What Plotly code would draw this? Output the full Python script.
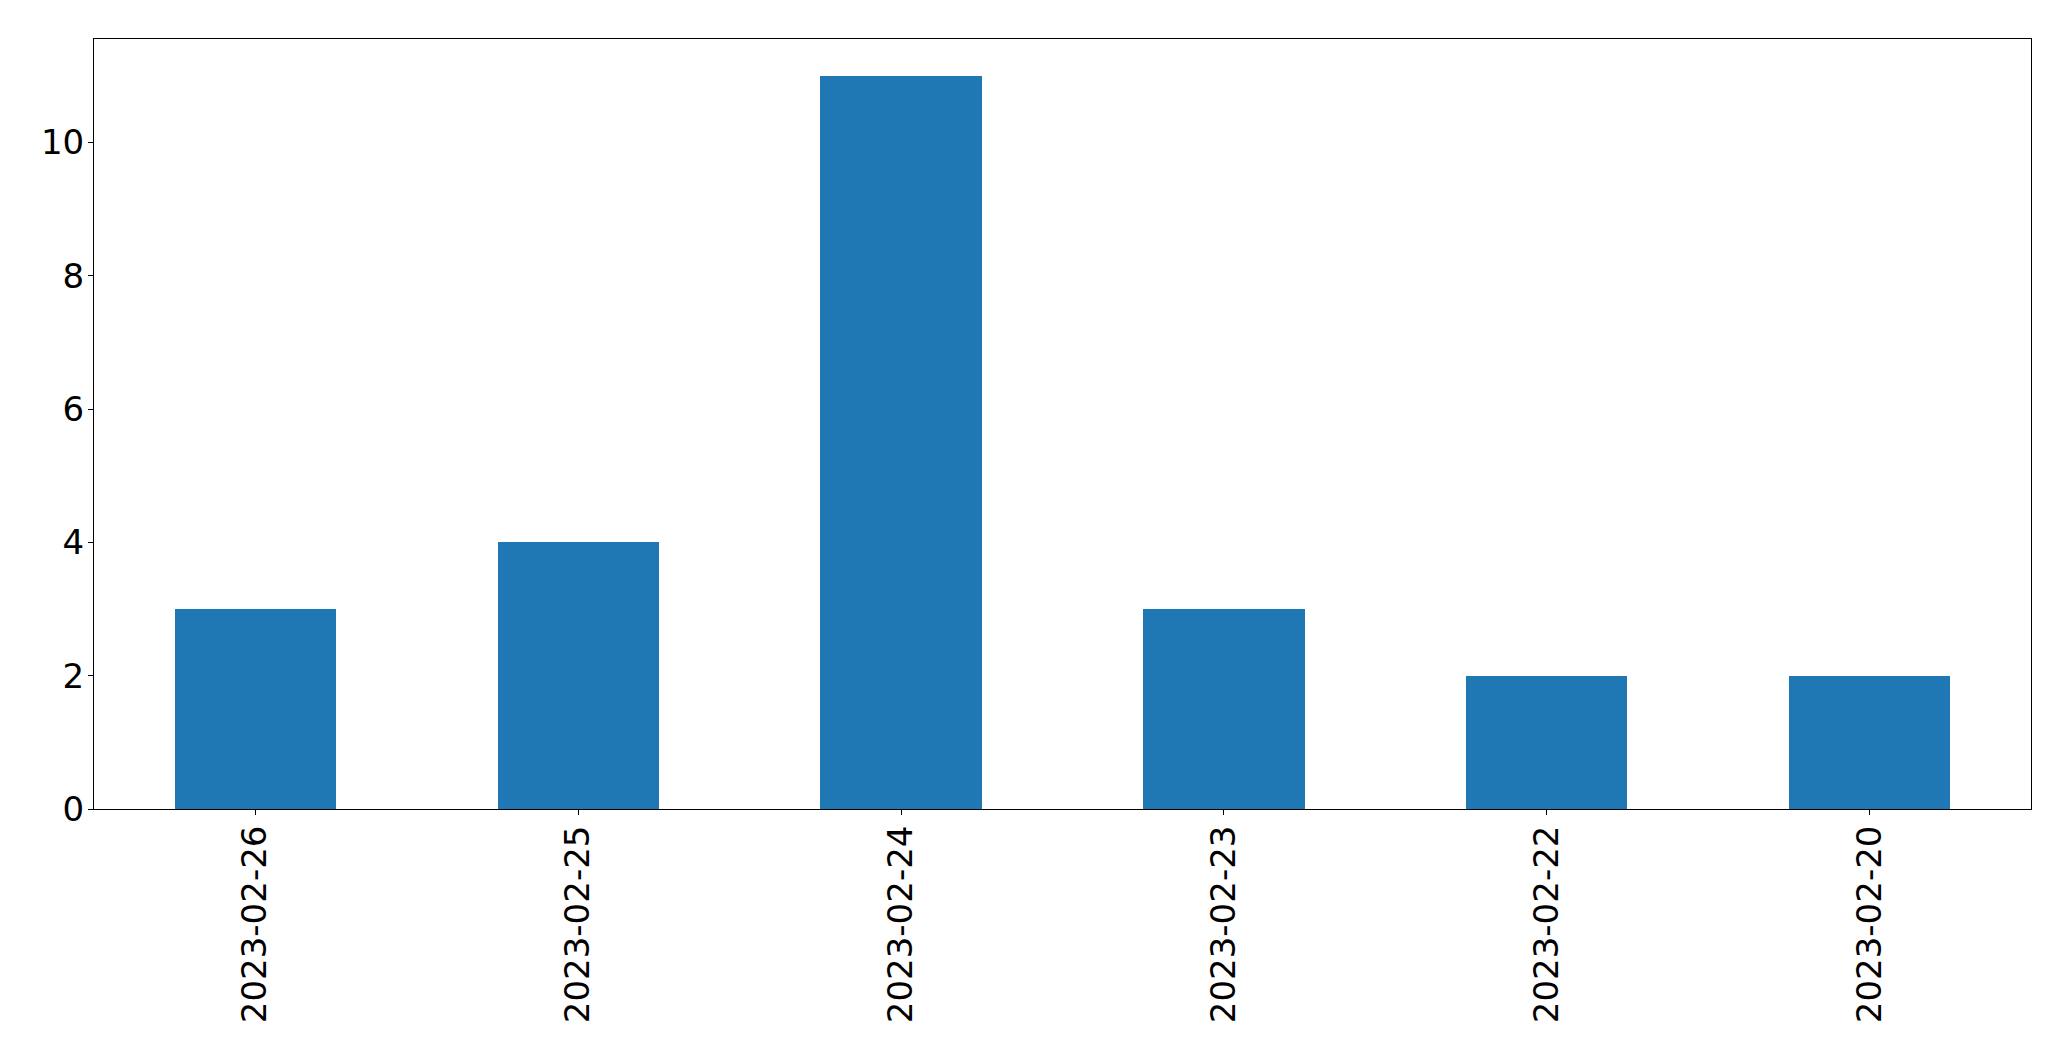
import plotly.graph_objects as go

categories = ["2023-02-26", "2023-02-25", "2023-02-24", "2023-02-23", "2023-02-22", "2023-02-20"]
values = [3, 4, 11, 3, 2, 2]
y_ticks = [0, 2, 4, 6, 8, 10]

fig = go.Figure(
    go.Bar(x=categories, y=values, width=0.5, marker=dict(color="#1f77b4", line=dict(width=0)))
)

# page body has an 8px margin, so the figure is offset by (8, 8)
fig.update_layout(
    width=2055, height=1045,
    margin=dict(l=86, r=32, t=31, b=244),
    paper_bgcolor="white", plot_bgcolor="white",
    font=dict(family="DejaVu Sans", size=34, color="black"),
    showlegend=False,
    bargap=0,
)
fig.update_xaxes(
    type="category", range=[-0.5, 5.5],
    tickangle=-90, ticks="outside", ticklen=5, tickwidth=1, tickcolor="black",
    showline=True, linecolor="black", linewidth=1, mirror=True,
    showgrid=False, zeroline=False, ticklabelstandoff=-3,
)
fig.update_yaxes(
    range=[0, 11.55], tickvals=y_ticks, ticktext=[str(v) for v in y_ticks],
    ticks="outside", ticklen=5, tickwidth=1, tickcolor="black",
    showline=True, linecolor="black", linewidth=1, mirror=True,
    showgrid=False, zeroline=False, ticklabelstandoff=-3,
)

fig.write_html("out.html")
